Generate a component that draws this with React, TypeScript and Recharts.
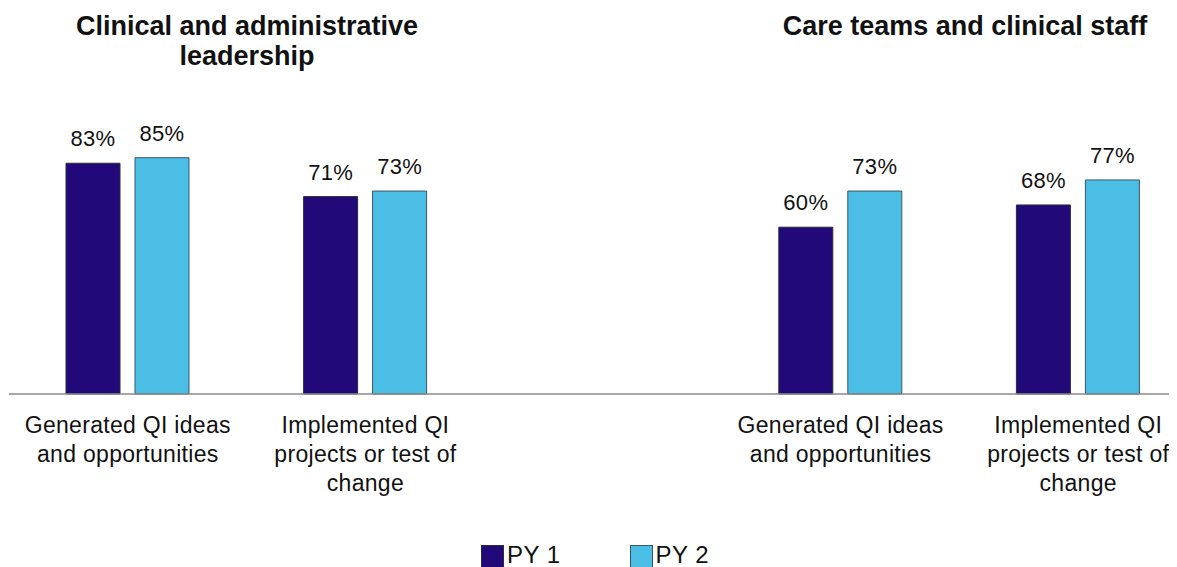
// Grouped bar chart: QI involvement by staff group, PY 1 vs PY 2.

import React from 'react';
import { BarChart, Bar, XAxis, YAxis, Legend, LabelList } from 'recharts';

const categories = [
  'Generated QI ideas\nand opportunities',
  'Implemented QI\nprojects or test of\nchange',
  '',
  'Generated QI ideas\nand opportunities',
  'Implemented QI\nprojects or test of\nchange',
];
const py1 = [83, 71, null, 60, 68];
const py2 = [85, 73, null, 73, 77];

const panelTitles = [
  { lines: ['Clinical and administrative', 'leadership'], x: 239 },
  { lines: ['Care teams and clinical staff'], x: 957 },
];

const seriesNames = ['PY 1', 'PY 2'];
const colors = ['#22097a', '#4bbee6'];
const borders = ['#2b2b3a', '#3a5666'];

const FONT = '"Liberation Sans", Arial, Helvetica, sans-serif';

const data = categories.map((name, i) => ({
  key: `c${i}`,
  name,
  'PY 1': py1[i],
  'PY 2': py2[i],
}));

const names = data.map((d) => d.name);

function CategoryTick(props: any) {
  const { x, y, index } = props;
  const lines = (names[index] ?? '').split('\n').filter((s: string) => s);
  return (
    <text x={x} y={y} textAnchor="middle" fill="#111" fontSize={23} letterSpacing={0.3} fontFamily={FONT}>
      {lines.map((line: string, i: number) => (
        <tspan key={i} x={x} dy={i === 0 ? 39 : 29}>
          {line}
        </tspan>
      ))}
    </text>
  );
}

function LegendContent() {
  return (
    <div style={{ display: 'flex', alignItems: 'flex-start', height: 22, fontFamily: FONT, fontSize: 24, color: '#111' }}>
      {seriesNames.map((n, i) => (
        <div key={n} style={{ display: 'flex', alignItems: 'flex-start', marginRight: i === 0 ? 69 : 0 }}>
          <span
            style={{
              display: 'inline-block',
              width: 23,
              height: 24,
              background: colors[i],
              border: `1px solid ${borders[i]}`,
              boxSizing: 'border-box',
              marginRight: 3,
            }}
          />
          <span style={{ lineHeight: '24px', marginTop: -2, letterSpacing: 0.5 }}>{n}</span>
        </div>
      ))}
    </div>
  );
}

const fmt = (v: any) => (v == null ? '' : `${v}%`);

export default function App() {
  return (
    <div style={{ position: 'relative', width: 1169, height: 559, overflow: 'hidden' }}>
      <BarChart
        width={1190}
        height={559}
        data={data}
        margin={{ top: 108, right: 1, left: 1, bottom: 0 }}
        barSize={54}
        barGap={15}
      >
        <XAxis
          dataKey="key"
          height={151}
          tickLine={false}
          tickSize={0}
          tickMargin={0}
          axisLine={{ stroke: '#8a8a8a', strokeWidth: 1.5 }}
          tick={<CategoryTick />}
          interval={0}
        />
        <YAxis hide domain={[0, 100]} />
        <Legend
          verticalAlign="bottom"
          content={<LegendContent />}
          wrapperStyle={{ left: 473, width: 'auto' }}
        />
        {seriesNames.map((s, i) => (
          <Bar key={s} dataKey={s} fill={colors[i]} stroke={borders[i]} strokeWidth={1} isAnimationActive={false}>
            <LabelList
              dataKey={s}
              position="top"
              offset={17}
              formatter={fmt}
              style={{ fontSize: 22, fontFamily: FONT, fill: '#111', letterSpacing: 0.3 }}
            />
          </Bar>
        ))}
      </BarChart>
      <svg width={1169} height={100} style={{ position: 'absolute', left: 0, top: 0 }}>
        {panelTitles.map((t, k) => (
          <text key={k} x={t.x} y={27} textAnchor="middle" fontFamily={FONT} fontWeight="bold" fontSize={27} fill="#111">
            {t.lines.map((l, i) => (
              <tspan key={i} x={t.x} dy={i === 0 ? 0 : 30}>
                {l}
              </tspan>
            ))}
          </text>
        ))}
      </svg>
    </div>
  );
}
